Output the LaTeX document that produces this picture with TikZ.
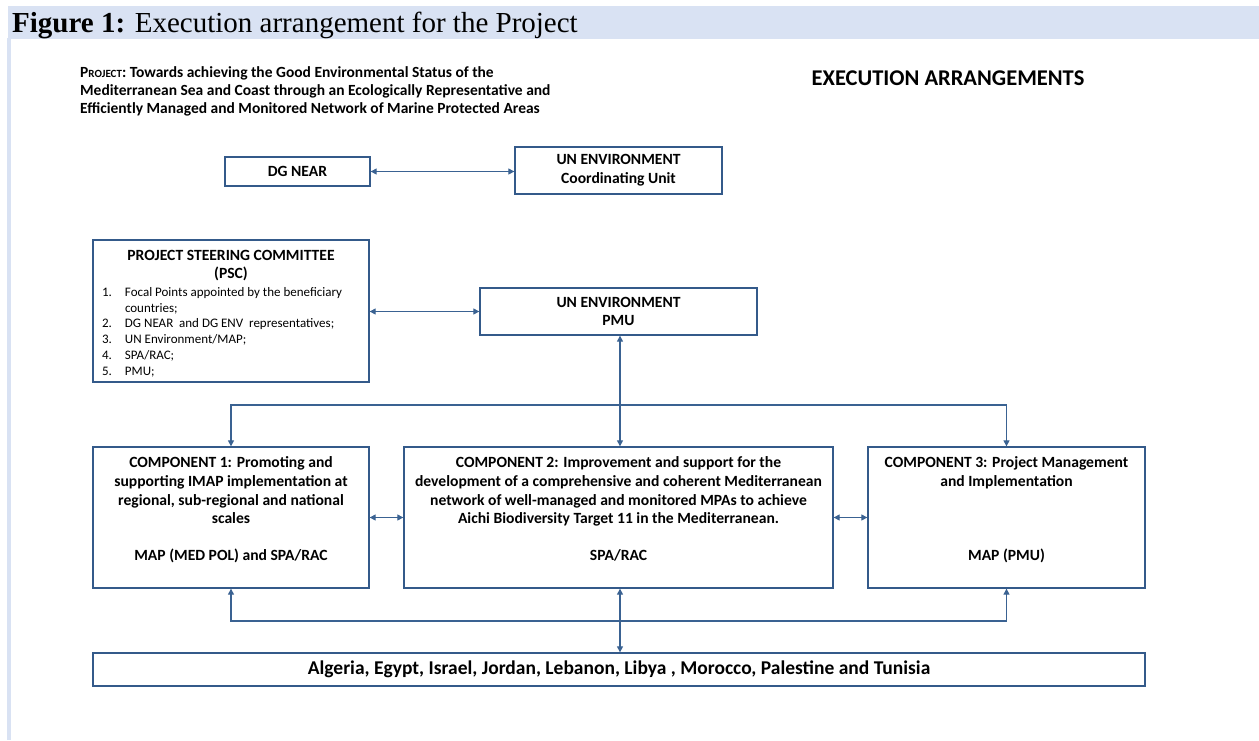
\documentclass[tikz,border=0pt]{standalone}
\usepackage{fontspec}
\setmainfont{Liberation Serif}
\newfontfamily\calibri{Carlito}
\usetikzlibrary{positioning,arrows.meta}

\definecolor{bandblue}{RGB}{217,226,243}
\definecolor{boxblue}{RGB}{52,90,138}
\definecolor{lineblue}{RGB}{58,98,146}

\begin{document}
\begin{tikzpicture}[x=1pt, y=-1pt, >={Triangle[length=6pt,width=6pt]},
  every node/.style={font=\calibri\bfseries\fontsize{15.6}{18.6}\selectfont},
  box/.style={rectangle, draw=boxblue, line width=1.3pt, fill=white, inner sep=0pt, align=center},
  link/.style={draw=lineblue, line width=1.1pt}]
  \useasboundingbox (0,0) rectangle (1259,740);
  % page band and margin stripe
  \fill[bandblue] (8,6) rectangle (1259,38.5);
  \fill[bandblue] (7,38) rectangle (11,740);
  \node[anchor=base west, inner sep=0pt, font=\rmfamily\fontsize{29}{32}\selectfont] (title) at (12,32)
    {\textbf{Figure 1:} Execution arrangement for the Project};

  % headings
  \node[anchor=north west, inner sep=0pt, align=left, font=\calibri\bfseries\fontsize{15.5}{18.2}\selectfont] (project) at (80,66)
    {P{\fontsize{11}{18}\selectfont ROJECT}: Towards achieving the Good Environmental Status of the\\
     Mediterranean Sea and Coast through an Ecologically Representative and\\
     Efficiently Managed and Monitored Network of Marine Protected Areas};
  \node[font=\calibri\bfseries\fontsize{22.5}{24}\selectfont] (exec) at (948,78) {EXECUTION ARRANGEMENTS};

  % governance
  \node[box, minimum width=145pt, minimum height=29pt] (dgnear) at (297.5,171.5) {DG NEAR};
  \node[box, minimum width=207pt, minimum height=47pt] (uncu) at (618.5,170.5) {UN ENVIRONMENT\\Coordinating Unit};
  \node[box, minimum width=276pt, minimum height=142pt] (psc) at (231,311)
    {\parbox[c][142pt][t]{270pt}{\centering\vspace*{10pt}PROJECT STEERING COMMITTEE\\(PSC)\par
     \vspace{3pt}\raggedright\mdseries\fontsize{13}{15.8}\selectfont
     \begin{tabular}{@{\hspace{6pt}}p{15pt}@{\hspace{8pt}}l@{}}
     1. & Focal Points appointed by the beneficiary\\
        & countries;\\
     2. & DG NEAR\ \ and DG ENV\ \ representatives;\\
     3. & UN Environment/MAP;\\
     4. & SPA/RAC;\\
     5. & PMU;
     \end{tabular}}};
  \node[box, minimum width=277pt, minimum height=47pt] (pmu) at (618.5,311.5)
    {\parbox[c][47pt][t]{270pt}{\centering\vspace*{9pt}UN ENVIRONMENT\\PMU}};

  % components
  \node[box, minimum width=276pt] (comp1) at (231,517.5)
    {\parbox[c][141pt][t]{270pt}{\centering\vspace*{10pt}COMPONENT 1: Promoting and\\
     supporting IMAP implementation at\\regional, sub-regional and national\\scales\par
     \vfill MAP (MED POL) and SPA/RAC\strut\par\vspace*{22pt}}};
  \node[box] (comp2) at (618.5,517.5)
    {\parbox[c][141pt][t]{429pt}{\centering\vspace*{10pt}COMPONENT 2: Improvement and support for the\\
     development of a comprehensive and coherent Mediterranean\\
     network of well-managed and monitored MPAs to achieve\\
     Aichi Biodiversity Target 11 in the Mediterranean.\par
     \vfill SPA/RAC\strut\par\vspace*{22pt}}};
  \node[box] (comp3) at (1006.5,517.5)
    {\parbox[c][141pt][t]{277pt}{\centering\vspace*{10pt}COMPONENT 3: Project Management\\
     and Implementation\par
     \vfill MAP (PMU)\strut\par\vspace*{22pt}}};
  \node[box, minimum width=1052pt, minimum height=33pt, font=\calibri\bfseries\fontsize{19.5}{22}\selectfont] (countries) at (619,669.5)
    {Algeria, Egypt, Israel, Jordan, Lebanon, Libya , Morocco, Palestine and Tunisia};

  \coordinate (split) at (620,405);
  \coordinate (join) at (620,621);

  % connectors
  \draw[link,<->] (dgnear.east) -- (dgnear.east -| uncu.west);
  \draw[link,<->] (psc.east |- pmu) -- (pmu.west);
  \draw[link,<->] (pmu.south -| split) -- (comp2.north -| split);
  \draw[link,->] (split) -| (comp1.north);
  \draw[link,->] (split) -| (comp3.north);
  \draw[link,<->] (comp1.east) -- (comp2.west);
  \draw[link,<->] (comp2.east) -- (comp3.west);
  \draw[link,->] (join) -| (comp1.south);
  \draw[link,->] (join) -| (comp3.south);
  \draw[link,<->] (comp2.south -| join) -- (countries.north -| join);
\end{tikzpicture}
\end{document}
